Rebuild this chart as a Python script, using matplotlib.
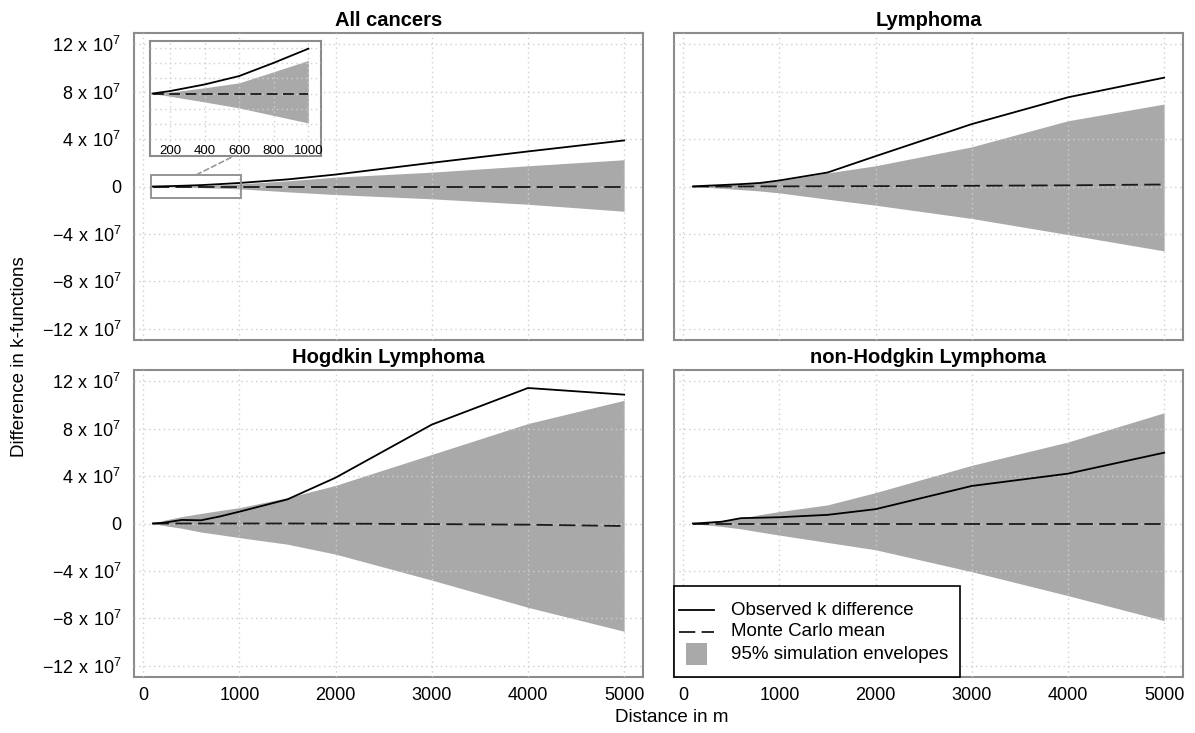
import matplotlib
matplotlib.use("Agg")
import matplotlib.pyplot as plt
from matplotlib.patches import Rectangle, ConnectionPatch
from matplotlib.lines import Line2D

plt.rcParams['font.family'] = ['Liberation Sans', 'DejaVu Sans']
plt.rcParams['mathtext.default'] = 'regular'

# ---------------- data (k-function differences in units of 1e7) ----------------
distance = [100, 200, 400, 600, 800, 1000, 1500, 2000, 3000, 4000, 5000]

titles = ["All cancers", "Lymphoma", "Hogdkin Lymphoma", "non-Hodgkin Lymphoma"]

obs_all = [0, 0.016, 0.06, 0.116, 0.204, 0.298, 0.60, 1.01, 2.00, 2.96, 3.89]
up_all = [0, 0.009, 0.038, 0.071, 0.145, 0.22, 0.48, 0.79, 1.21, 1.75, 2.26]
lo_all = [0, -0.018, -0.056, -0.096, -0.146, -0.196, -0.45, -0.68, -1.04, -1.50, -2.09]
mean_all = [0, 0, 0, 0, 0, 0, 0, 0, 0, 0, 0]

obs_lym = [0, 0.05, 0.12, 0.20, 0.30, 0.51, 1.18, 2.56, 5.27, 7.53, 9.19]
up_lym = [0, 0.04, 0.12, 0.20, 0.32, 0.48, 1.15, 1.75, 3.35, 5.55, 6.96]
lo_lym = [0, -0.05, -0.15, -0.26, -0.38, -0.54, -1.07, -1.58, -2.70, -4.06, -5.44]
mean_lym = [0, 0, 0, 0, 0.01, 0.01, 0.02, 0.03, 0.06, 0.10, 0.17]

obs_hl = [0, 0.05, 0.30, 0.27, 0.60, 1.00, 2.04, 3.87, 8.35, 11.44, 10.88]
up_hl = [0, 0.25, 0.58, 0.85, 1.10, 1.34, 2.18, 3.22, 5.83, 8.44, 10.40]
lo_hl = [0, -0.15, -0.40, -0.72, -0.95, -1.19, -1.75, -2.59, -4.78, -7.08, -9.10]
mean_hl = [0, 0, 0, 0, 0, 0, 0, -0.01, -0.05, -0.10, -0.21]

obs_nhl = [0, 0.04, 0.15, 0.45, 0.49, 0.53, 0.73, 1.21, 3.17, 4.21, 5.98]
up_nhl = [0, 0.08, 0.25, 0.45, 0.75, 1.01, 1.57, 2.61, 4.91, 6.88, 9.35]
lo_nhl = [0, -0.08, -0.25, -0.45, -0.72, -0.98, -1.60, -2.22, -4.07, -6.09, -8.20]
mean_nhl = [0, 0, 0, 0, 0, 0, 0, 0, 0, 0, 0]

UNIT = 1e7
y_ticks = [-12, -8, -4, 0, 4, 8, 12]
x_ticks = [0, 1000, 2000, 3000, 4000, 5000]
inset_x_ticks = [200, 400, 600, 800, 1000]
inset_y_grid = [-3e6, -2e6, -1e6, 0, 1e6, 2e6, 3e6]

legend_labels = ["Observed k difference", "Monte Carlo mean", "95% simulation envelopes"]

# ---------------- styles ----------------
FILL = '#a9a9a9'
GRID = '#cfcfcf'
FRAME = '#8c8c8c'
W, H = 1195, 733
DASH = (0, (9, 3.5))

fig = plt.figure(figsize=(W / 100, H / 100), dpi=100)


def px_axes(l, t, r, b):
    return fig.add_axes([l / W, 1 - b / H, (r - l) / W, (b - t) / H])


def ylab(v):
    if v == 0:
        return "0"
    return r"$%s\ x\ 10^{7}$" % (("-" if v < 0 else "") + str(abs(v)))


def style_axes(ax):
    for s in ax.spines.values():
        s.set_color(FRAME)
        s.set_linewidth(1.5)
    ax.set_axisbelow(False)
    ax.grid(True, color=GRID, linestyle=(0, (1, 2.5)), linewidth=1.0)
    ax.tick_params(length=0)


boxes = [(134, 33, 643, 340), (674, 33, 1183, 340),
         (134, 370, 643, 677), (674, 370, 1183, 677)]
series = [(obs_all, up_all, lo_all, mean_all),
          (obs_lym, up_lym, lo_lym, mean_lym),
          (obs_hl, up_hl, lo_hl, mean_hl),
          (obs_nhl, up_nhl, lo_nhl, mean_nhl)]

axes = []
for i, (box, (obs, up, lo, mn), title) in enumerate(zip(boxes, series, titles)):
    ax = px_axes(*box)
    axes.append(ax)
    ax.fill_between(distance, [v * UNIT for v in lo], [v * UNIT for v in up],
                    color=FILL, linewidth=0, zorder=1)
    ax.plot(distance, [v * UNIT for v in mn], color='#1a1a1a', lw=1.3,
            linestyle=DASH, zorder=3)
    ax.plot(distance, [v * UNIT for v in obs], color='black', lw=1.3, zorder=4)
    ax.set_xlim(-96, 5196)
    ax.set_ylim(-12.96e7, 12.96e7)
    ax.set_xticks(x_ticks)
    ax.set_yticks([v * UNIT for v in y_ticks])
    style_axes(ax)
    ax.set_title(title, fontsize=14.5, fontweight='bold', pad=5)
    if i % 2 == 0:
        ax.set_yticklabels([ylab(v) for v in y_ticks], fontsize=13)
        ax.tick_params(axis='y', pad=9)
    else:
        ax.set_yticklabels([])
    if i >= 2:
        ax.set_xticklabels([str(v) for v in x_ticks], fontsize=13)
        ax.tick_params(axis='x', pad=7)
    else:
        ax.set_xticklabels([])

# ---------------- zoom rectangle + inset on "All cancers" ----------------
ax0 = axes[0]
ax0.add_patch(Rectangle((80, -1e7), 932, 2e7, fill=False, edgecolor=FRAME,
                        lw=1.3, zorder=5))

axin = px_axes(150, 41, 320.7, 155.5)
axin.set_facecolor('white')
in_x = [d for d in distance if d <= 1000]
n = len(in_x)
axin.fill_between(in_x, [v * UNIT for v in lo_all[:n]], [v * UNIT for v in up_all[:n]],
                  color=FILL, linewidth=0, zorder=1)
axin.plot(in_x, [v * UNIT for v in mean_all[:n]], color='#1a1a1a', lw=1.3,
          linestyle=(0, (6, 3)), zorder=3)
axin.plot(in_x, [v * UNIT for v in obs_all[:n]], color='black', lw=1.3, zorder=4)
axin.set_xlim(85, 1071)
axin.set_ylim(-4.12e6, 3.49e6)
axin.set_xticks(inset_x_ticks)
axin.set_xticklabels([str(v) for v in inset_x_ticks], fontsize=9.5)
axin.set_yticks(inset_y_grid)
axin.set_yticklabels([])
style_axes(axin)
axin.tick_params(axis='x', pad=-7.5)

con = ConnectionPatch(xyA=(555, 1e7), coordsA=ax0.transData,
                      xyB=(576, -4.12e6), coordsB=axin.transData,
                      color='#999999', lw=1.2, linestyle=(0, (3, 2)))
fig.add_artist(con)

# ---------------- legend (bottom-right panel) ----------------
axl = axes[3]
tr = axl.transAxes
axl.add_patch(Rectangle((0, 0), 0.562, 0.296, transform=tr, facecolor='white',
                        edgecolor='black', lw=1.2, zorder=10, clip_on=False))
rows_y = [0.218, 0.147, 0.0717]
axl.add_line(Line2D([0.0098, 0.0786], [rows_y[0]] * 2, transform=tr, color='black',
                    lw=1.3, zorder=11))
axl.add_line(Line2D([0.0098, 0.0786], [rows_y[1]] * 2, transform=tr, color='#1a1a1a',
                    lw=1.3, linestyle=DASH, zorder=11))
axl.add_patch(Rectangle((0.0236, 0.039), 0.0412, 0.072, transform=tr,
                        facecolor=FILL, edgecolor='none', zorder=11))
for y, lab in zip(rows_y, legend_labels):
    axl.text(0.112, y, lab, transform=tr, fontsize=13.5, va='center', ha='left',
             zorder=12)

# ---------------- axis labels ----------------
fig.text(20 / W, 1 - 357 / H, "Difference in k-functions", rotation=90,
         fontsize=13.5, ha='center', va='center')
fig.text(672 / W, 1 - 718 / H, "Distance in m", fontsize=13.5,
         ha='center', va='center')

fig.savefig("out.png", dpi=100)
